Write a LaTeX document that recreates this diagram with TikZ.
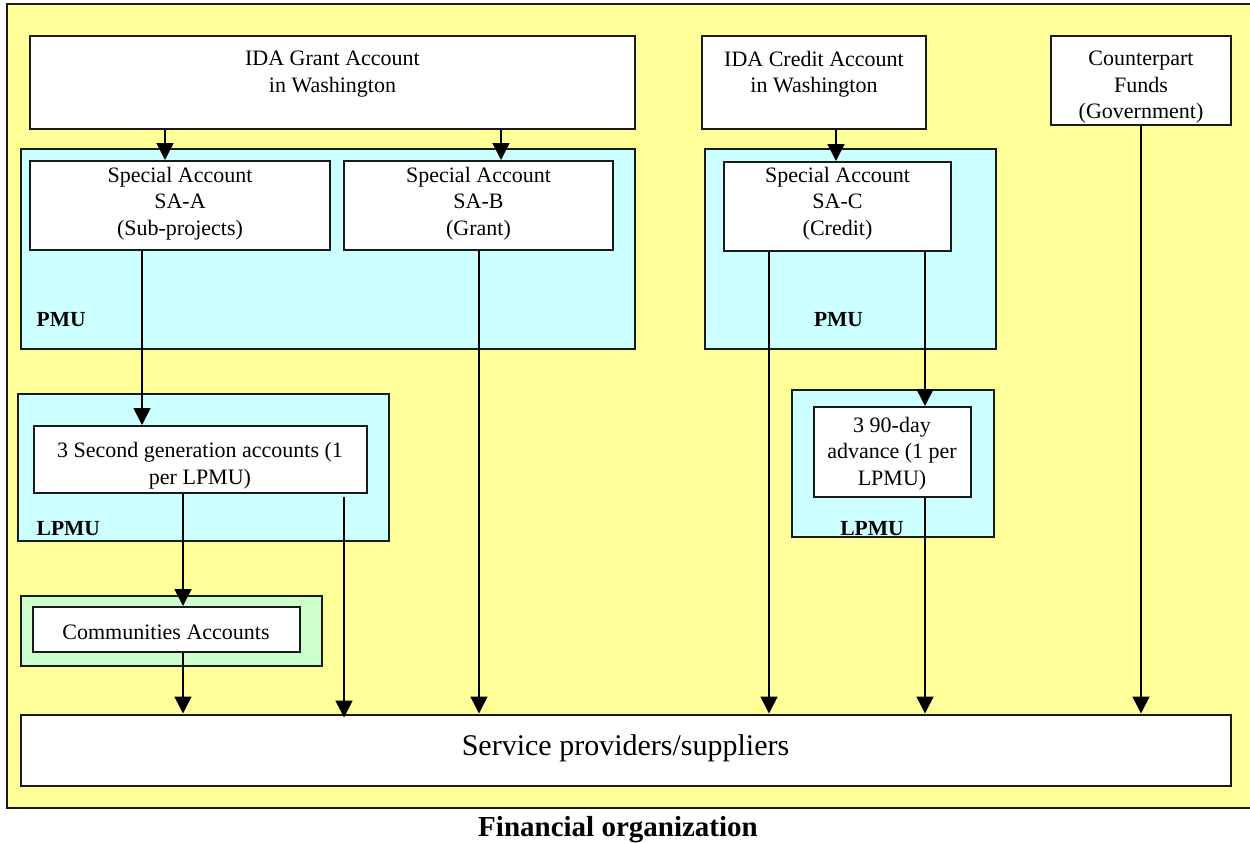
\documentclass[tikz,border=0pt]{standalone}
\usepackage{fontspec}
\setmainfont{Liberation Serif}
\usetikzlibrary{arrows.meta,fit}
\definecolor{bgyellow}{HTML}{FFFF99}
\definecolor{pmucyan}{HTML}{CCFFFF}
\definecolor{comgreen}{HTML}{CCFFCC}
\definecolor{edge}{HTML}{1A1A1A}
\tikzset{
  box/.style={draw=edge, line width=2pt, fill=white, inner sep=0pt},
  unitbox/.style={draw=edge, line width=2pt, fill=pmucyan, inner sep=0pt},
  greenbox/.style={draw=edge, line width=2pt, fill=comgreen, inner sep=0pt},
  txt/.style={align=center, inner sep=0pt, font=\fontsize{22}{26.5}\selectfont},
  unitlabel/.style={inner sep=0pt, font=\fontsize{21.5}{26}\selectfont\bfseries},
  arr/.style={draw=black, line width=1.6pt, -{Triangle[width=17pt,length=17pt]}},
}
\begin{document}
\begin{tikzpicture}[x=1pt,y=-1pt]
\useasboundingbox (0,0) rectangle (1250,843);
% background frame
\node[draw=edge, line width=2pt, fill=bgyellow, inner sep=0pt, fit={(7,4) (1256,808)}] (frame) {};

% group boxes
\node[unitbox, fit={(21,149) (635,349)}] (pmuA) {};
\node[unitbox, fit={(705,149) (996,349)}] (pmuB) {};
\node[unitbox, fit={(17.5,394) (389,541)}] (lpmuA) {};
\node[unitbox, fit={(791.5,390) (993.5,537)}] (lpmuB) {};
\node[greenbox, fit={(20.5,596) (321.5,666)}] (comgrp) {};

% account boxes
\node[box, fit={(30,36) (635,129)}] (ga) {};
\node[box, fit={(702,36) (926,129)}] (ca) {};
\node[box, fit={(1051,36) (1231,125)}] (cf) {};
\node[box, fit={(30,161) (330,250)}] (saa) {};
\node[box, fit={(344,161) (613,250)}] (sab) {};
\node[box, fit={(724,162) (951,251)}] (sac) {};
\node[box, fit={(33.5,426) (366.5,493)}] (sg) {};
\node[box, fit={(814,407) (970.5,497)}] (nd) {};
\node[box, fit={(32.5,607) (299.5,652)}] (com) {};
\node[box, fit={(20.5,714.5) (1230.5,785.5)}] (sp) {};

% texts
\node[txt] (gat) at (332.5,74) {IDA Grant Account\\in Washington};
\node[txt] (cat) at (814,74) {IDA Credit Account\\in Washington};
\node[txt] (cft) at (1141,87.5) {Counterpart\\Funds\\(Government)};
\node[txt] (saat) at (180,203.5) {Special Account\\SA-A\\(Sub-projects)};
\node[txt] (sabt) at (478.5,203.5) {Special Account\\SA-B\\(Grant)};
\node[txt] (sact) at (837.5,203.5) {Special Account\\SA-C\\(Credit)};
\node[txt] (sgt) at (200,465.5) {3 Second generation accounts (1\\per LPMU)};
\node[txt] (ndt) at (892,453.5) {3 90-day\\advance (1 per\\LPMU)};
\node[txt] (comt) at (166,632) {Communities Accounts};
\node[inner sep=0pt, font=\fontsize{30}{36}\selectfont] (spt) at (625.5,748) {Service providers/suppliers};
\node[unitlabel, anchor=west] (pmuAl) at (36.5,320) {PMU};
\node[unitlabel] (pmuBl) at (838.5,320) {PMU};
\node[unitlabel, anchor=west] (lpmuAl) at (36.5,529) {LPMU};
\node[unitlabel] (lpmuBl) at (872,529) {LPMU};
\node[inner sep=0pt, font=\fontsize{29}{34}\selectfont\bfseries] (title) at (618,830) {Financial organization};

% connectors
\draw[arr] (ga.south -| 165,0) -- (saa.north -| 165,0);
\draw[arr] (ga.south -| 501,0) -- (sab.north -| 501,0);
\draw[arr] (ca.south -| 836,0) -- (sac.north -| 836,0);
\draw[arr] (saa.south -| 142,0) -- (sg.north -| 142,0);
\draw[arr] (sab.south -| 479,0) -- (sp.north -| 479,0);
\draw[arr] (sac.south -| 769,0) -- (sp.north -| 769,0);
\draw[arr] (sac.south -| 925,0) -- (nd.north -| 925,0);
\draw[arr] (sg.south -| 183,0) -- (com.north -| 183,0);
\draw[arr] ([yshift=-3pt]sg.south -| 344,0) -- ([yshift=-4pt]sp.north -| 344,0);
\draw[arr] (com.south -| 183,0) -- (sp.north -| 183,0);
\draw[arr] (nd.south -| 925,0) -- (sp.north -| 925,0);
\draw[arr] (cf.south -| 1141,0) -- (sp.north -| 1141,0);
\end{tikzpicture}
\end{document}
